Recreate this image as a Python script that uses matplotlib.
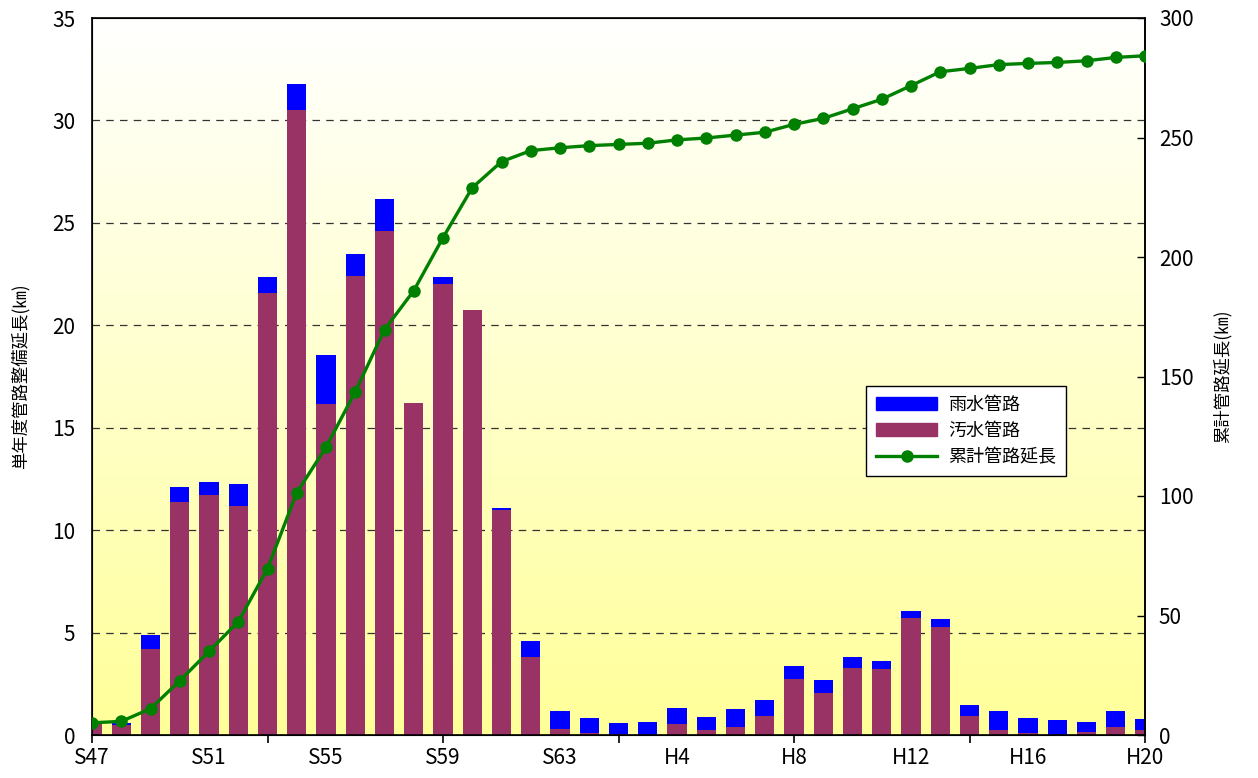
import numpy as np
import matplotlib
matplotlib.use('Agg')
import matplotlib.pyplot as plt
from matplotlib.lines import Line2D
from matplotlib.patches import Patch

plt.rcParams['font.family'] = ['Noto Sans CJK JP', 'DejaVu Sans']

# years S47 .. H20
years = ['S47', 'S48', 'S49', 'S50', 'S51', 'S52', 'S53', 'S54', 'S55', 'S56',
         'S57', 'S58', 'S59', 'S60', 'S61', 'S62', 'S63',
         'H1', 'H2', 'H3', 'H4', 'H5', 'H6', 'H7', 'H8', 'H9', 'H10',
         'H11', 'H12', 'H13', 'H14', 'H15', 'H16', 'H17', 'H18', 'H19', 'H20']

# sewage (汚水管路), km per year
sewage = [0.7, 0.5, 4.2, 11.35, 11.7, 11.2, 21.57, 30.5, 16.15, 22.4,
          24.6, 16.2, 22.0, 20.75, 10.98, 3.81, 0.29,
          0.08, 0.05, 0.0, 0.54, 0.24, 0.39, 0.93, 2.73, 2.05, 3.27,
          3.22, 5.71, 5.27, 0.93, 0.24, 0.1, 0.0, 0.15, 0.39, 0.24]

# rainwater (雨水管路), km per year
rain = [0.0, 0.1, 0.68, 0.75, 0.65, 1.05, 0.8, 1.3, 2.4, 1.08,
        1.56, 0.0, 0.35, 0.0, 0.1, 0.78, 0.88,
        0.75, 0.54, 0.63, 0.78, 0.64, 0.88, 0.78, 0.64, 0.63, 0.54,
        0.39, 0.34, 0.39, 0.53, 0.93, 0.73, 0.73, 0.48, 0.78, 0.54]

# cumulative length (累計管路延長), km
cumulative = [5.1, 5.7, 11.0, 22.7, 35.0, 47.4, 69.6, 101.4, 120.4, 143.6,
              169.6, 185.9, 208.1, 229.0, 239.9, 244.5, 245.7,
              246.6, 247.1, 247.6, 249.0, 249.8, 251.0, 252.2, 255.5, 258.0, 262.0,
              266.0, 271.7, 277.5, 278.9, 280.5, 281.0, 281.4, 282.1, 283.5, 284.2]

x = np.arange(len(years))

fig = plt.figure(figsize=(12.58, 7.78), dpi=100)
ax = fig.add_axes([92 / 1258, 1 - 735 / 778, (1145 - 92) / 1258, (735 - 18) / 778])

# white -> pale yellow gradient background
grad = np.linspace(0, 1, 256).reshape(-1, 1)
top_c = np.array([1.0, 1.0, 1.0])
bot_c = np.array([1.0, 1.0, 0.6])
img = top_c + (bot_c - top_c) * grad[:, :, None]
ax.imshow(img, extent=[0, 36, 0, 35], aspect='auto', origin='upper', zorder=0)

ax.bar(x, sewage, width=0.65, color='#993366', zorder=2)
ax.bar(x, rain, width=0.65, bottom=sewage, color='#0000FF', zorder=2)

ax.set_xlim(0, 36)
ax.set_ylim(0, 35)
ax.set_yticks(np.arange(0, 36, 5))
ax.tick_params(axis='y', length=0, labelsize=15, pad=12)
for v in range(5, 35, 5):
    ax.axhline(v, color='#333333', lw=0.9, ls=(0, (6, 5)), zorder=1)

# tick marks every 6 years, labels every 4 years
ax.xaxis.remove_overlapping_locs = False
ax.set_xticks(np.arange(0, 37, 6))
ax.set_xticklabels([])
ax.tick_params(axis='x', which='major', length=6, width=1.2, direction='out')
ax.set_xticks(np.arange(0, 37, 4), minor=True)
ax.set_xticklabels([years[i] for i in range(0, 37, 4)], minor=True)
ax.tick_params(axis='x', which='minor', length=0, labelsize=15, pad=9)

for s in ax.spines.values():
    s.set_linewidth(1.2)
    s.set_zorder(5)

ax.set_ylabel('単年度管路整備延長(㎞)', fontsize=12.5, labelpad=16)

ax2 = ax.twinx()
ax2.plot(x, cumulative, color='#008000', lw=2.4, marker='o', markersize=8, zorder=4)
ax2.set_ylim(0, 300)
ax2.set_yticks(np.arange(0, 301, 50))
ax2.tick_params(axis='y', direction='in', length=6, width=1, labelsize=15, pad=10)
ax2.set_ylabel('累計管路延長(㎞)', fontsize=12.5, labelpad=14)
ax2.spines['right'].set_linewidth(1.2)
ax2.set_xlim(0, 36)

handles = [Patch(color='#0000FF'), Patch(color='#993366'),
           Line2D([0], [0], color='#008000', lw=2.4, marker='o', markersize=8)]
labels = ['雨水管路', '汚水管路', '累計管路延長']
leg = ax2.legend(handles, labels, loc='upper left', bbox_to_anchor=(774 / 1053, 1 - 368 / 717),
                 borderaxespad=0, fontsize=13, frameon=True, fancybox=False, edgecolor='black',
                 framealpha=1, handlelength=3.4, borderpad=0.55, labelspacing=0.45,
                 handletextpad=0.6)
leg.get_frame().set_linewidth(1.0)

fig.savefig('out.png', dpi=100)
